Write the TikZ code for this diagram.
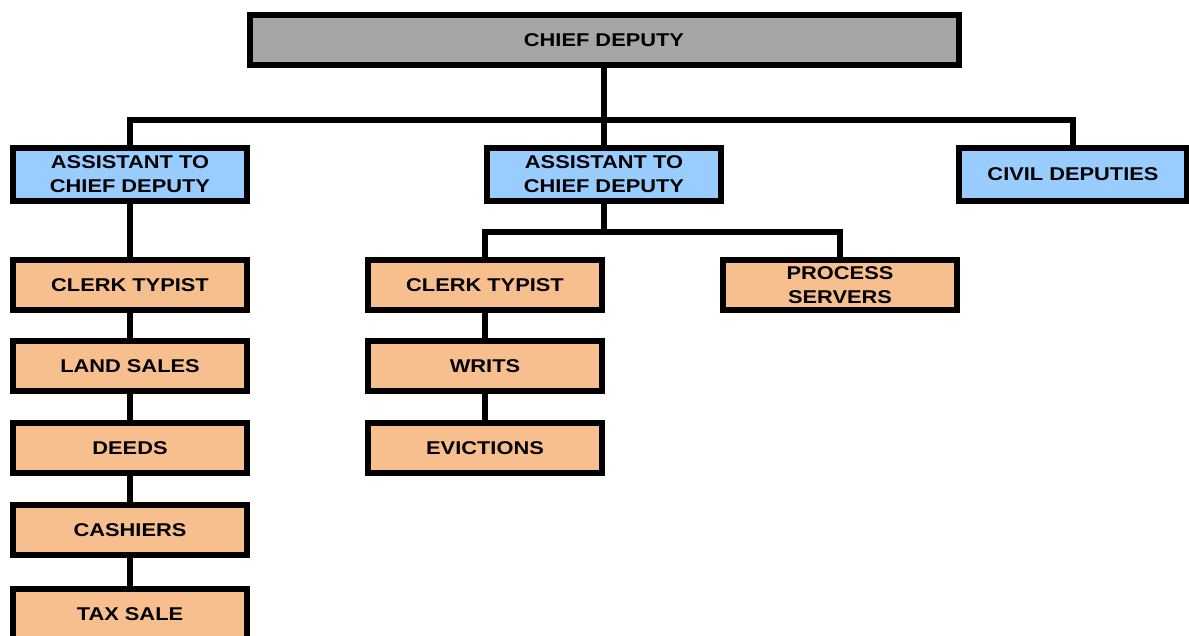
\documentclass[tikz,border=0pt]{standalone}
\usepackage{fontspec}
\setmainfont{Liberation Sans}[FakeStretch=1.18]
\definecolor{boxgray}{HTML}{A6A6A6}
\definecolor{boxblue}{HTML}{99CCFF}
\definecolor{boxorange}{HTML}{F8BF8E}
\tikzset{
  orgbox/.style={draw=black, line width=6pt, rectangle, align=center,
    inner sep=0pt, font=\fontsize{18.5}{24}\selectfont\bfseries,
    minimum width=234pt, minimum height=50pt},
  topbox/.style={orgbox, fill=boxgray, minimum width=709pt},
  asstbox/.style={orgbox, fill=boxblue, minimum height=53pt},
  staffbox/.style={orgbox, fill=boxorange},
  link/.style={line width=5.5pt, line join=miter}
}
\begin{document}
\begin{tikzpicture}[x=1pt,y=-1pt]
\fill[white] (0,0) rectangle (1189,635);
\useasboundingbox (0,0) rectangle (1189,635);
% nodes
\node[topbox] (chief) at (604,40) {CHIEF DEPUTY};
\node[asstbox] (a1) at (130,174.5) {ASSISTANT TO\\CHIEF DEPUTY};
\node[asstbox] (a2) at (604,174.5) {ASSISTANT TO\\CHIEF DEPUTY};
\node[asstbox, minimum width=228pt] (civil) at (1073,174.5) {CIVIL DEPUTIES};
\node[staffbox] (l1) at (130,285) {CLERK TYPIST};
\node[staffbox] (l2) at (130,366) {LAND SALES};
\node[staffbox] (l3) at (130,448) {DEEDS};
\node[staffbox] (l4) at (130,530) {CASHIERS};
\node[staffbox] (l5) at (130,614) {TAX SALE};
\node[staffbox] (m1) at (485,285) {CLERK TYPIST};
\node[staffbox] (m2) at (485,366) {WRITS};
\node[staffbox] (m3) at (485,448) {EVICTIONS};
\node[staffbox] (ps) at (840,285) {PROCESS\\SERVERS};
% bus coordinates
\coordinate (bus1) at (604,120);
\coordinate (bus2) at (604,232);
% connectors
\draw[link] (chief.south) -- (bus1);
\draw[link] (a1.north) |- (bus1) -| (civil.north);
\draw[link] (bus1) -- (a2.north);
\draw[link] (a1.south) -- (l1.north);
\draw[link] (l1.south) -- (l2.north);
\draw[link] (l2.south) -- (l3.north);
\draw[link] (l3.south) -- (l4.north);
\draw[link] (l4.south) -- (l5.north);
\draw[link] (a2.south) -- (bus2);
\draw[link] (m1.north) |- (bus2) -| (ps.north);
\draw[link] (m1.south) -- (m2.north);
\draw[link] (m2.south) -- (m3.north);
\end{tikzpicture}
\end{document}
